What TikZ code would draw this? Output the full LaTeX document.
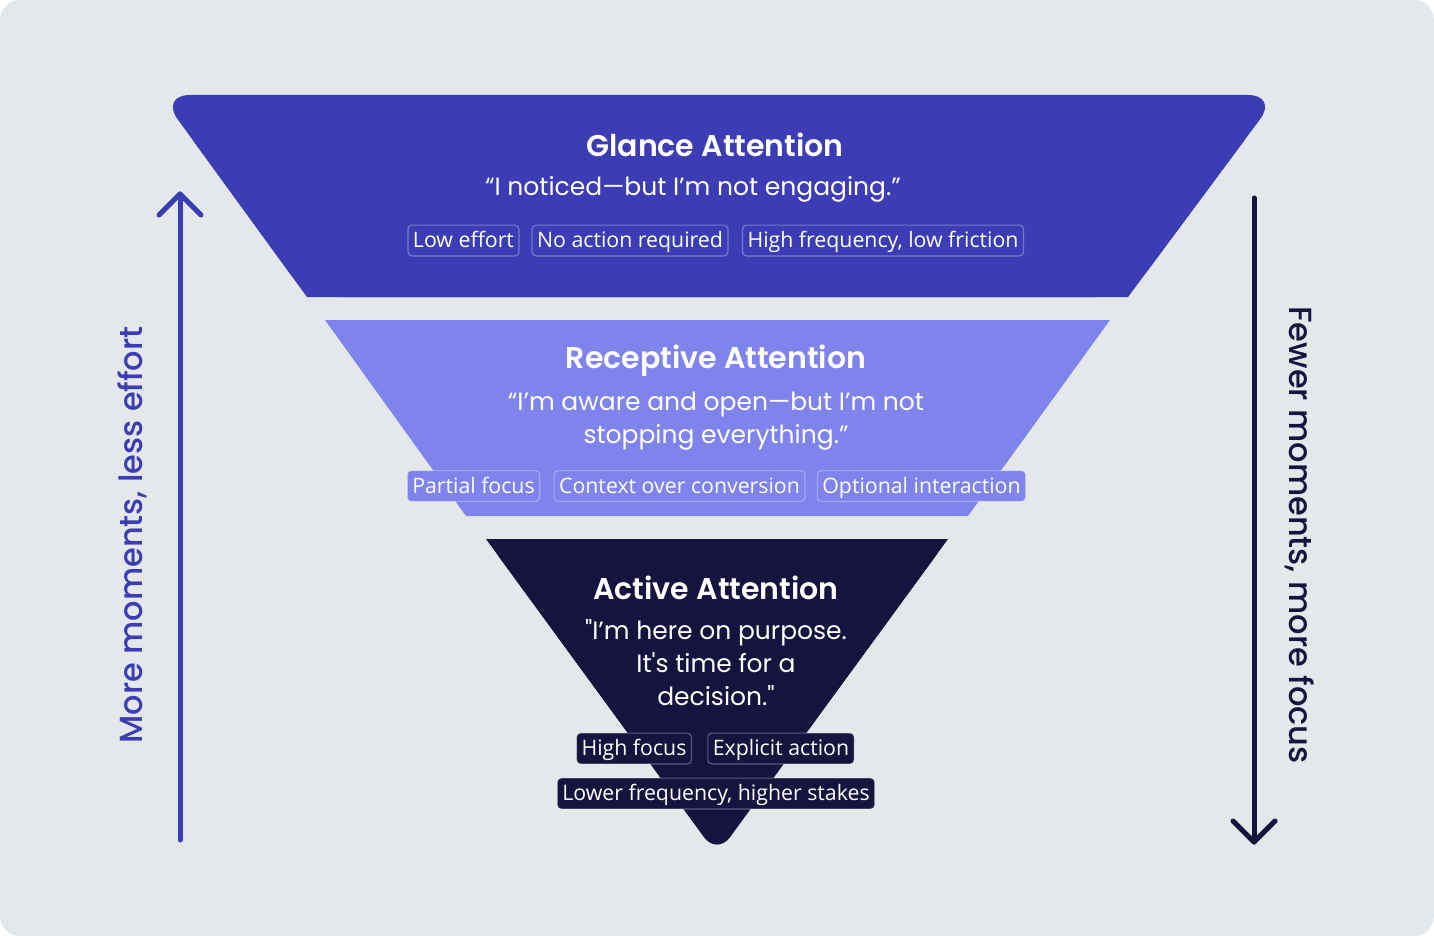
\documentclass[tikz,border=0pt]{standalone}
\usepackage{fontspec}
\setmainfont{Poppins}
\newfontfamily\titlefont{Poppins}[UprightFont={* SemiBold}]
\newfontfamily\sidefont{Poppins}[UprightFont={* Medium}]
\newfontfamily\tagfont{Open Sans}
\definecolor{bgc}{HTML}{E4E8EB}
\definecolor{glance}{HTML}{3C3DB5}
\definecolor{recep}{HTML}{7F83EC}
\definecolor{active}{HTML}{16143F}
\tikzset{
  ttl/.style={text=white,font=\titlefont\fontsize{30}{36}\selectfont,inner sep=0pt},
  qte/.style={text=white,font=\fontsize{25}{33}\selectfont,align=center,inner sep=0pt},
  tagbox/.style={text=white,font=\tagfont\fontsize{21.3}{24}\selectfont,rounded corners=4pt,
    draw=white,draw opacity=0.3,line width=1.2pt,text height=22.4pt,text depth=8.4pt,
    inner xsep=5pt,inner ysep=0pt},
  side/.style={font=\sidefont\fontsize{32}{40}\selectfont,inner sep=0pt},
  arr/.style={line width=5pt,line cap=round,line join=round}
}
\begin{document}
\begin{tikzpicture}[x=1pt,y=-1pt]
\useasboundingbox (0,0) rectangle (1434,936);
\fill[white] (0,0) rectangle (1434,936);
\fill[bgc,rounded corners=20pt] (0,0) rectangle (1434,936);
% glance layer
\fill[glance,rounded corners=30pt] (160,95) -- (1278,95) -- (1128,297) -- (307,297) -- cycle;
\fill[glance] (192.7,140) -- (1244.6,140) -- (1128,297) -- (307,297) -- cycle;
% receptive layer
\fill[recep] (325,320) -- (1110,320) -- (968,516) -- (466,516) -- cycle;
% active layer
\fill[active,rounded corners=22pt] (486,539) -- (948,539) -- (717,855) -- cycle;
\fill[active] (486,539) -- (948,539) -- (757.2,800) -- (676.8,800) -- cycle;
% texts glance
\node[ttl] (gt) at (715,145) {Glance Attention};
\node[qte] (gq) at (693,189) {“I noticed—but I’m not engaging.”};
\node[tagbox,fill=glance] (g1) at (463.5,240.5) {Low effort};
\node[tagbox,fill=glance] (g2) at (630,240.5) {No action required};
\node[tagbox,fill=glance] (g3) at (883,240.5) {High frequency, low friction};
% receptive
\node[ttl] (rt) at (716,361) {Receptive Attention};
\node[qte] (rq) at (716,421.5) {“I’m aware and open—but I’m not\\stopping everything.”};
\node[tagbox,fill=recep] (r1) at (473.5,486) {Partial focus};
\node[tagbox,fill=recep] (r2) at (679.5,486) {Context over conversion};
\node[tagbox,fill=recep] (r3) at (921.5,486) {Optional interaction};
% active
\node[ttl] (at) at (716,588) {Active Attention};
\node[qte] (aq) at (716,663) {\textquotedbl I’m here on purpose.\\It\textquotesingle s time for a\\decision.\textquotedbl};
\node[tagbox,fill=active] (a1) at (634,748.5) {High focus};
\node[tagbox,fill=active] (a2) at (781,748.5) {Explicit action};
\node[tagbox,fill=active] (a3) at (716,793.5) {Lower frequency, higher stakes};
% left arrow
\coordinate (la0) at (180,840);
\coordinate (la1) at (180,194);
\draw[arr,glance] (la0) -- (la1);
\draw[arr,glance] (159,215) -- (la1) -- (201,215);
\node[side,text=glance,rotate=90] (lt) at (132,535) {More moments, less effort};
% right arrow
\coordinate (ra0) at (1254,198);
\coordinate (ra1) at (1254,842);
\draw[arr,active] (ra0) -- (ra1);
\draw[arr,active] (1233,821) -- (ra1) -- (1275,821);
\node[side,text=active,rotate=-90] (rt2) at (1300,535) {Fewer moments, more focus};
\end{tikzpicture}
\end{document}
